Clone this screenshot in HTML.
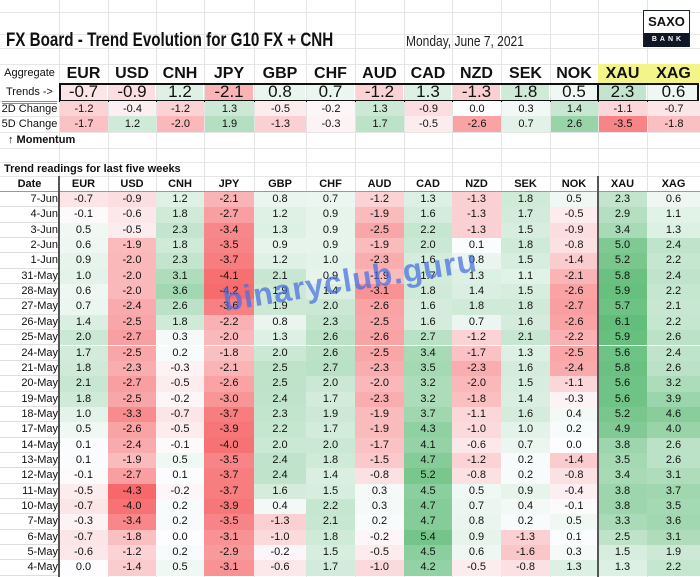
<!DOCTYPE html>
<html><head><meta charset="utf-8"><style>
body{margin:0;background:#fff;width:700px;height:577px;overflow:hidden;position:relative;font-family:"Liberation Sans",Arial,sans-serif;color:#111}
.a{position:absolute;box-sizing:border-box;white-space:nowrap}
</style></head><body>
<div id="root"></div>
<script>
const X=[59,108,156,204,254,306,355,404,452,501,550,598,647,700];
const cur=["EUR","USD","CNH","JPY","GBP","CHF","AUD","CAD","NZD","SEK","NOK","XAU","XAG"];
const dates=["7-Jun","4-Jun","3-Jun","2-Jun","1-Jun","31-May","28-May","27-May","26-May","25-May","24-May","21-May","20-May","19-May","18-May","17-May","14-May","13-May","12-May","11-May","10-May","7-May","6-May","5-May","4-May"];
const D=[
[-0.7,-0.9,1.2,-2.1,0.8,0.7,-1.2,1.3,-1.3,1.8,0.5,2.3,0.6],
[-0.1,-0.6,1.8,-2.7,1.2,0.9,-1.9,1.6,-1.3,1.7,-0.5,2.9,1.1],
[0.5,-0.5,2.3,-3.4,1.3,0.9,-2.5,2.2,-1.3,1.5,-0.9,3.4,1.3],
[0.6,-1.9,1.8,-3.5,0.9,0.9,-1.9,2.0,0.1,1.8,-0.8,5.0,2.4],
[0.9,-2.0,2.3,-3.7,1.2,1.0,-2.3,1.6,0.8,1.5,-1.4,5.2,2.2],
[1.0,-2.0,3.1,-4.1,2.1,0.9,-1.9,1.7,1.3,1.1,-2.1,5.8,2.4],
[0.6,-2.0,3.6,-4.2,1.9,1.4,-3.1,1.8,1.4,1.5,-2.6,5.9,2.2],
[0.7,-2.4,2.6,-3.6,1.9,2.0,-2.6,1.6,1.8,1.8,-2.7,5.7,2.1],
[1.4,-2.5,1.8,-2.2,0.8,2.3,-2.5,1.6,0.7,1.6,-2.6,6.1,2.2],
[2.0,-2.7,0.3,-2.0,1.3,2.6,-2.6,2.7,-1.2,2.1,-2.2,5.9,2.6],
[1.7,-2.5,0.2,-1.8,2.0,2.6,-2.5,3.4,-1.7,1.3,-2.5,5.6,2.4],
[1.8,-2.3,-0.3,-2.1,2.5,2.7,-2.3,3.5,-2.3,1.6,-2.4,5.8,2.6],
[2.1,-2.7,-0.5,-2.6,2.5,2.0,-2.0,3.2,-2.0,1.5,-1.1,5.6,3.2],
[1.8,-2.5,-0.2,-3.0,2.4,1.7,-2.3,3.2,-1.8,1.4,-0.3,5.6,3.9],
[1.0,-3.3,-0.7,-3.7,2.3,1.9,-1.9,3.7,-1.1,1.6,0.4,5.2,4.6],
[0.5,-2.6,-0.5,-3.9,2.2,1.7,-1.9,4.3,-1.0,1.0,0.2,4.9,4.0],
[0.1,-2.4,-0.1,-4.0,2.0,2.0,-1.7,4.1,-0.6,0.7,0.0,3.8,2.6],
[0.1,-1.9,0.5,-3.5,2.4,1.8,-1.5,4.7,-1.2,0.2,-1.4,3.5,2.6],
[-0.1,-2.7,0.1,-3.7,2.4,1.4,-0.8,5.2,-0.8,0.2,-0.8,3.4,3.1],
[-0.5,-4.3,-0.2,-3.7,1.6,1.5,0.3,4.5,0.5,0.9,-0.4,3.8,3.7],
[-0.7,-4.0,0.2,-3.9,0.4,2.2,0.3,4.7,0.7,0.4,-0.1,3.8,3.5],
[-0.3,-3.4,0.2,-3.5,-1.3,2.1,0.2,4.7,0.8,0.2,0.5,3.3,3.6],
[-0.7,-1.8,0.0,-3.1,-1.0,1.8,-0.2,5.4,0.9,-1.3,0.1,2.5,3.1],
[-0.6,-1.2,0.2,-2.9,-0.2,1.5,-0.5,4.5,0.6,-1.6,0.3,1.5,1.9],
[0.0,-1.4,0.5,-3.1,-0.6,1.7,-1.0,4.2,-0.5,-0.8,1.3,1.3,2.2]];
const d2=[-1.2,-0.4,-1.2,1.3,-0.5,-0.2,1.3,-0.9,0.0,0.3,1.4,-1.1,-0.7];
const d5=[-1.7,1.2,-2.0,1.9,-1.3,-0.3,1.7,-0.5,-2.6,0.7,2.6,-3.5,-1.8];
function mix(t,c){t=Math.max(0,Math.min(1,t));const w=[253,253,255];return `rgb(${w.map((v,i)=>Math.round(v+(c[i]-v)*t)).join(",")})`;}
const R=[246,104,106],G=[99,190,123];
function col(v,mn,mx){if(v<0)return mix(v/mn,R);if(v>0)return mix(v/mx,G);return "rgb(253,253,255)";}
const MN=-4.3,MX=6.1;
let h="";
function box(x,y,w,hh,s,t){h+=`<div class="a" style="left:${x}px;top:${y}px;width:${w}px;height:${hh}px;${s}">${t||""}</div>`;}
for(const x of X) box(x,0,1,577,"background:#e4e4e4");
for(const y of [12,34,48,64,101,116,132,148,162,176]) box(0,y,700,1,"background:#e6e6e6");
box(6,29,420,24,"font-size:19px;font-weight:bold;line-height:24px;transform:scaleX(0.8);transform-origin:0 0","FX Board - Trend Evolution for G10 FX + CNH");
box(406,32,200,20,"font-size:15px;line-height:20px;color:#222;transform:scaleX(0.8);transform-origin:0 0","Monday, June 7, 2021");
box(643,10,47,37,"border:1px solid #1a2233;background:#fff");
box(643,12,47,20,"font-size:13px;font-weight:bold;line-height:20px;text-align:center;color:#111","SAXO");
box(644,33,45,14,"background:#0f1626;color:#fff;font-size:7px;font-weight:bold;letter-spacing:3px;line-height:14px;text-align:center;padding-left:3px","BANK");
box(598,64,102,19,"background:#f3f58a");
box(0,64,59,19,"font-size:11px;line-height:19px;text-align:center","Aggregate");
cur.forEach((c,i)=>box(X[i],64,X[i+1]-X[i],19,"font-size:16px;font-weight:bold;line-height:19px;text-align:center",c));
box(0,83,59,18,"font-size:11px;line-height:18px;text-align:center","Trends -&gt;");
box(2,101,55,3,"border-top:1px solid #888;border-bottom:1px solid #888");
cur.forEach((c,i)=>{const v=D[0][i];box(X[i]+1,84,X[i+1]-X[i]-2,16,`background:${col(v,MN,MX)};font-size:17px;line-height:16px;text-align:center`,v.toFixed(1));});
box(59,83,640,19,"border:2px solid #111");
box(597,83,2,19,"background:#111");
function mrow(arr,y,lab){box(0,y,59,16,"font-size:11px;line-height:16px;text-align:center",lab);
 arr.forEach((v,i)=>box(X[i]+1,y,X[i+1]-X[i]-1,16,`background:${col(v,-4.3,4)};font-size:11px;line-height:16px;text-align:center`,v.toFixed(1)));}
mrow(d2,101,"2D Change");mrow(d5,116,"5D Change");
box(8,132,100,16,"font-size:11px;font-weight:bold;line-height:16px","&#8593; Momentum");
box(4,162,300,14,"font-size:11px;font-weight:bold;line-height:14px","Trend readings for last five weeks");
box(0,176,59,16,"font-size:11px;font-weight:bold;line-height:16px;text-align:center","Date");
cur.forEach((c,i)=>box(X[i],176,X[i+1]-X[i],16,"font-size:11px;font-weight:bold;line-height:16px;text-align:center",c));
box(0,191,700,1,"background:#999");
D.forEach((r,k)=>{const y=192+k*15.35;
 box(0,y,58,15.35,`font-size:11px;line-height:15px;text-align:right;border-bottom:1px solid #ddd`,dates[k]);
 r.forEach((v,i)=>box(X[i],y,X[i+1]-X[i],15.35,`background:${col(v,MN,MX)};font-size:11px;line-height:15px;text-align:center`,v.toFixed(1)));});
box(58,176,2,401,"background:#555");
box(597,176,2,401,"background:#555");
box(210,258,280,44,"font-size:32px;font-weight:bold;color:rgba(70,110,225,0.72);transform:rotate(-9deg);letter-spacing:1px;text-align:center;line-height:44px","binaryclub.guru");
document.getElementById("root").innerHTML=h;
</script>
</body></html>
